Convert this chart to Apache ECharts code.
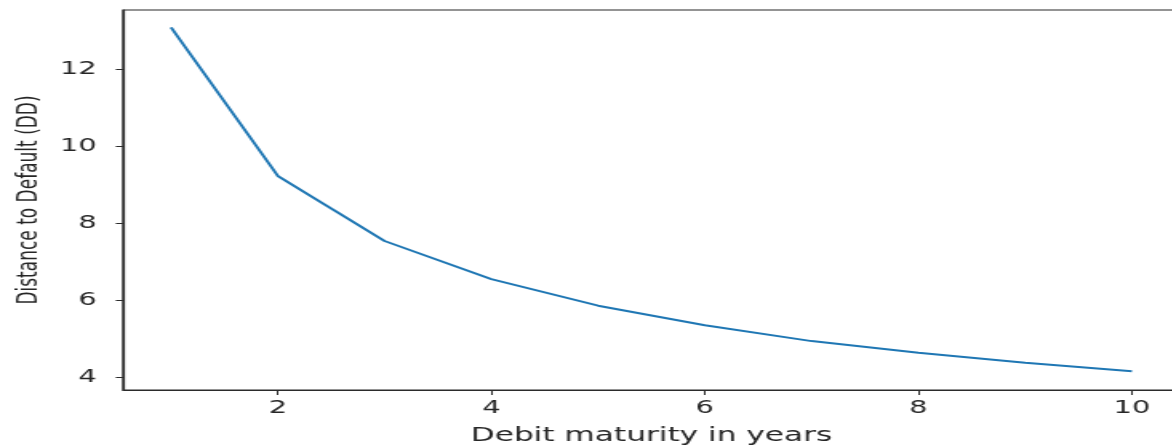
<!DOCTYPE html>
<html>
<head>
<meta charset="utf-8">
<script src="https://cdn.jsdelivr.net/npm/echarts@6/dist/echarts.min.js"></script>
<style>
  html, body { margin: 0; padding: 0; background: #fff; overflow: hidden; }
  #wrap { width: 1172px; height: 446px; overflow: hidden; position: relative; }
  /* the figure is drawn narrow and widened horizontally */
  #chart { width: 732.5px; height: 446px; transform: scaleX(1.6); transform-origin: 0 0; }
</style>
</head>
<body>
<div id="wrap"><div id="chart"></div></div>
<script>
// Debt maturity (years) and the resulting distance to default
const maturities = [1, 2, 3, 4, 5, 6, 7, 8, 9, 10];
const ddValues = [13.10, 9.24, 7.55, 6.56, 5.87, 5.36, 4.95, 4.65, 4.39, 4.17];
const xTicks = [2, 4, 6, 8, 10];
const yTicks = [4, 6, 8, 10, 12];

const axisColor = '#2b2b2b';
const textColor = '#262626';
const font = 'DejaVu Sans';

const chart = echarts.init(document.getElementById('chart'), null, { renderer: 'canvas' });

chart.setOption({
  animation: false,
  backgroundColor: '#fff',
  grid: {
    // plot frame runs past the right edge of the figure
    left: 76.9, width: 660.6, top: 10, bottom: 56,
    outerBoundsMode: 'none',
    containLabel: false,
    show: true, borderColor: axisColor, borderWidth: 1.2, backgroundColor: 'transparent'
  },
  xAxis: {
    type: 'value',
    min: 0.55, max: 10.45,
    name: 'Debit maturity in years',
    nameLocation: 'middle',
    nameGap: 36,
    nameTextStyle: { fontFamily: font, fontSize: 19.5, color: textColor },
    axisLine: { show: true, lineStyle: { color: axisColor, width: 1.2 } },
    axisTick: { show: true, customValues: xTicks, length: 5, lineStyle: { color: axisColor, width: 1 } },
    axisLabel: { customValues: xTicks, fontFamily: font, fontSize: 18, color: textColor, margin: 9 },
    splitLine: { show: false }
  },
  yAxis: {
    type: 'value',
    min: 3.68, max: 13.55,
    name: 'Distance to Default (DD)',
    nameLocation: 'middle',
    nameGap: 48,
    nameRotate: 90,
    nameTextStyle: { fontFamily: font, fontSize: 17, color: textColor },
    axisLine: { show: true, lineStyle: { color: axisColor, width: 1.2 } },
    axisTick: { show: true, customValues: yTicks, length: 4.5, lineStyle: { color: axisColor, width: 1 } },
    axisLabel: { customValues: yTicks, fontFamily: font, fontSize: 18, color: textColor, margin: 16.5 },
    splitLine: { show: false }
  },
  series: [{
    type: 'line',
    data: maturities.map((m, i) => [m, ddValues[i]]),
    showSymbol: false,
    lineStyle: { color: '#1f77b4', width: 2 },
    itemStyle: { color: '#1f77b4' }
  }]
});
</script>
</body>
</html>
